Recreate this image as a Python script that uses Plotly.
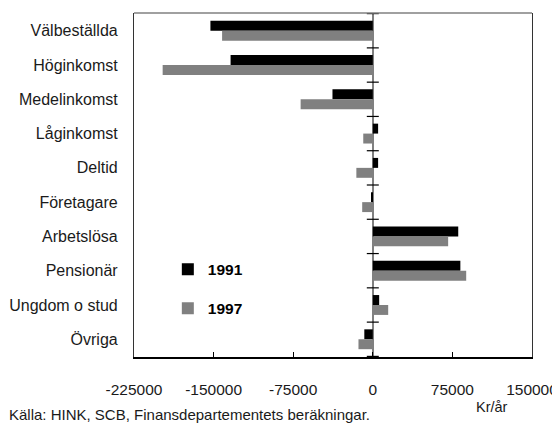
import plotly.graph_objects as go

categories = ["Välbeställda", "Höginkomst", "Medelinkomst", "Låginkomst", "Deltid",
              "Företagare", "Arbetslösa", "Pensionär", "Ungdom o stud", "Övriga"]
v1991 = [-153000, -134000, -38000, 5000, 5000, -1000, 80500, 82500, 6000, -8000]
v1997 = [-142000, -198000, -68000, -9000, -15500, -10000, 71000, 88000, 14500, -13500]
series_names = ["1991", "1997"]
tick_vals = [-225000, -150000, -75000, 0, 75000, 150000]
tick_text = ["-225000", "-150000", "-75000", "0", "75000", "150000"]

FONT = "Liberation Sans, Arial, sans-serif"

fig = go.Figure()
fig.add_trace(go.Bar(y=categories, x=v1991, orientation="h", name=series_names[0],
                     marker=dict(color="#000000", line=dict(width=0)), legendgroup="a"))
fig.add_trace(go.Bar(y=categories, x=v1997, orientation="h", name=series_names[1],
                     marker=dict(color="#808080", line=dict(width=0)), legendgroup="b"))

# category boundary ticks crossing the zero axis
shapes = []
for i in range(len(categories) + 1):
    shapes.append(dict(type="line", xref="x", yref="y", xsizemode="pixel", xanchor=0,
                       x0=-6, x1=6, y0=i - 0.5, y1=i - 0.5,
                       line=dict(color="#000000", width=1.2)))
shapes.append(dict(type="line", xref="paper", yref="paper", x0=0, x1=1, y0=1, y1=1,
                   line=dict(color="#808080", width=1.5)))

# the page body has an 8px margin, so the figure is 8px smaller each way
fig.update_layout(
    width=552, height=418,
    margin=dict(l=126, r=28, t=5, b=69, autoexpand=False),
    paper_bgcolor="white", plot_bgcolor="white",
    barmode="group", bargap=0.42, bargroupgap=0,
    font=dict(family=FONT, size=15, color="#1a1a1a"),
    showlegend=True,
    legend=dict(x=0.085, y=0.3035, xanchor="left", yanchor="top",
                font=dict(family=FONT, size=15.5, color="#000000", weight="bold"),
                tracegroupgap=16, bgcolor="rgba(0,0,0,0)", traceorder="grouped"),
    shapes=shapes,
    annotations=[
        dict(text="Källa: HINK, SCB, Finansdepartementets beräkningar.", xref="paper", yref="paper",
             x=-0.318, y=-0.168, xanchor="left", yanchor="middle", showarrow=False,
             font=dict(family=FONT, size=15, color="#1a1a1a")),
        dict(text="Kr/år", xref="paper", yref="paper", x=0.9, y=-0.145,
             xanchor="center", yanchor="middle", showarrow=False,
             font=dict(family=FONT, size=14.5, color="#1a1a1a")),
    ],
)
fig.update_xaxes(range=[-225000, 150000], tickvals=tick_vals, ticktext=tick_text,
                 automargin=False, tickfont=dict(size=15.5),
                 showgrid=False, zeroline=True, zerolinecolor="#808080", zerolinewidth=1.5,
                 showline=True, linecolor="#000000", linewidth=1.5,
                 ticks="inside", ticklen=5, tickcolor="#000000", ticklabelstandoff=18)
fig.update_yaxes(autorange="reversed", showgrid=False, zeroline=False, automargin=False,
                 tickfont=dict(size=16),
                 showline=True, linecolor="#333333", linewidth=1.2, mirror=True,
                 ticks="", ticklabelstandoff=12)

fig.write_html("out.html")
